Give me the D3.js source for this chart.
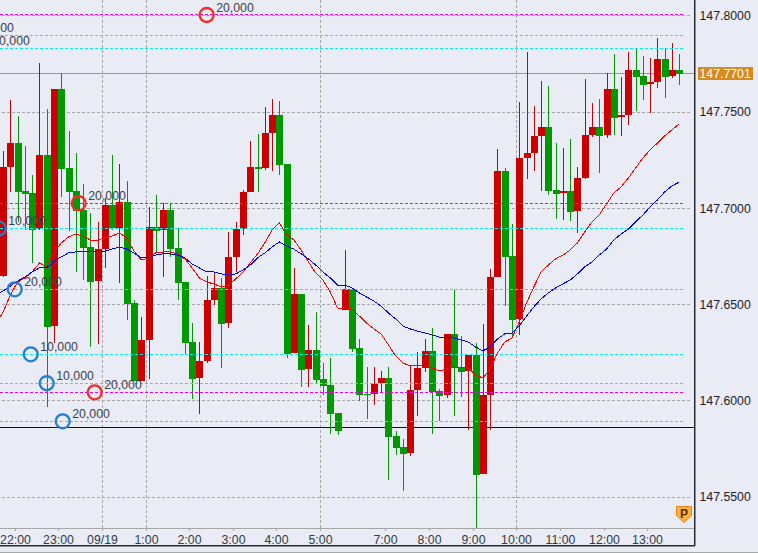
<!DOCTYPE html>
<html>
<head>
<meta charset="utf-8">
<script src="https://cdn.jsdelivr.net/npm/d3@7"></script>
<style>
html,body{margin:0;padding:0;background:#e9ecf5;overflow:hidden}
svg{display:block}
text{font-family:"Liberation Sans",Arial,sans-serif;font-size:12.3px}
</style>
</head>
<body>
<div id="chart"></div>
<script>
const opens=[147.6648,147.7215,147.7339,147.7090,147.7079,147.6892,147.7277,147.6388,147.7620,147.7209,
147.7090,147.6991,147.6799,147.6622,147.6788,147.7017,147.6898,147.7033,147.6508,147.6103,
147.6316,147.6903,147.6887,147.6991,147.6794,147.6617,147.6305,147.6118,147.6207,147.6524,
147.6586,147.6404,147.6747,147.6892,147.7085,147.7215,147.7209,147.7391,147.7485,147.7230,
147.6248,147.6555,147.6165,147.6264,147.6113,147.6082,147.5937,147.6472,147.6581,147.6274,
147.6035,147.6035,147.6092,147.6118,147.5817,147.5760,147.5729,147.6056,147.6170,147.6259,
147.6051,147.6030,147.6347,147.6175,147.6155,147.6238,147.5620,147.6030,147.6643,147.7194,
147.6752,147.6425,147.7261,147.7287,147.7376,147.7422,147.7095,147.7079,147.7090,147.6986,
147.7157,147.7381,147.7422,147.7381,147.7620,147.7474,147.7485,147.7718,147.7687,147.7646,
147.7656,147.7775,147.7687,147.7718];
const closes=[147.7215,147.7339,147.7085,147.7074,147.6887,147.7277,147.6383,147.7620,147.7204,147.7085,
147.6986,147.6794,147.6617,147.6788,147.7017,147.6898,147.7033,147.6503,147.6103,147.6316,
147.6903,147.6882,147.6991,147.6788,147.6612,147.6300,147.6113,147.6207,147.6524,147.6586,
147.6399,147.6747,147.6892,147.7085,147.7215,147.7204,147.7391,147.7485,147.7225,147.6243,
147.6555,147.6160,147.6264,147.6108,147.6077,147.5931,147.5843,147.6581,147.6269,147.6030,
147.6030,147.6087,147.6118,147.5812,147.5755,147.5724,147.6056,147.6170,147.6259,147.6046,
147.6025,147.6347,147.6170,147.6149,147.6238,147.5614,147.6030,147.6643,147.7194,147.6747,
147.6420,147.7261,147.7287,147.7376,147.7422,147.7090,147.7074,147.7090,147.6981,147.7157,
147.7381,147.7422,147.7376,147.7620,147.7469,147.7485,147.7718,147.7682,147.7640,147.7656,
147.7775,147.7682,147.7718,147.7698];
const highs=[147.7298,147.7563,147.7479,147.7324,147.7173,147.7755,147.7516,147.7620,147.7703,147.7402,
147.7287,147.7126,147.6975,147.6929,147.7053,147.7277,147.7230,147.7142,147.6524,147.6435,
147.7007,147.7069,147.7027,147.7022,147.6898,147.6617,147.6404,147.6305,147.6648,147.6664,
147.6638,147.6877,147.6929,147.7095,147.7350,147.7386,147.7526,147.7568,147.7557,147.7230,
147.6690,147.6555,147.6394,147.6461,147.6196,147.6222,147.5937,147.6783,147.6581,147.6321,
147.6175,147.6175,147.6155,147.6175,147.5843,147.5801,147.6181,147.6253,147.6321,147.6378,
147.6061,147.6347,147.6575,147.6336,147.6238,147.6300,147.6399,147.6685,147.7308,147.7209,
147.6918,147.7552,147.7812,147.7531,147.7661,147.7635,147.7339,147.7313,147.7360,147.7215,
147.7672,147.7547,147.7568,147.7703,147.7801,147.7682,147.7812,147.7827,147.7791,147.7781,
147.7885,147.7827,147.7859,147.7801];
const lows=[147.6643,147.7085,147.6929,147.6887,147.6716,147.6887,147.5968,147.6300,147.7059,147.6882,
147.6669,147.6627,147.6279,147.6295,147.6690,147.6887,147.6612,147.6420,147.6103,147.6103,
147.6113,147.6773,147.6643,147.6747,147.6524,147.6243,147.6009,147.5931,147.6196,147.6498,
147.6170,147.6378,147.6669,147.6861,147.7085,147.7085,147.7199,147.7194,147.7173,147.6222,
147.6248,147.6072,147.6072,147.6087,147.6030,147.5827,147.5822,147.6472,147.6253,147.5999,
147.5905,147.5978,147.6046,147.5588,147.5718,147.5531,147.5713,147.5921,147.6149,147.5827,
147.5895,147.6015,147.5921,147.6020,147.5848,147.5339,147.5620,147.5848,147.6643,147.6492,
147.6326,147.6342,147.7152,147.7194,147.7090,147.7069,147.6944,147.6939,147.6934,147.6872,
147.7152,147.7370,147.7183,147.7365,147.7381,147.7376,147.7433,147.7505,147.7563,147.7495,
147.7625,147.7573,147.7677,147.7640];
// moving averages start one bar before the first visible candle
const maFast=[147.6399,147.6461,147.6550,147.6617,147.6638,147.6669,147.6716,147.6695,147.6773,147.6820,147.6851,
147.6866,147.6856,147.6835,147.6835,147.6846,147.6856,147.6872,147.6846,147.6778,147.6731,
147.6742,147.6768,147.6773,147.6773,147.6763,147.6737,147.6690,147.6638,147.6617,147.6607,
147.6591,147.6601,147.6633,147.6669,147.6716,147.6763,147.6820,147.6887,147.6924,147.6861,
147.6835,147.6783,147.6721,147.6664,147.6627,147.6565,147.6482,147.6477,147.6477,147.6440,
147.6404,147.6373,147.6347,147.6290,147.6233,147.6196,147.6181,147.6181,147.6181,147.6170,
147.6155,147.6165,147.6175,147.6175,147.6170,147.6134,147.6118,147.6165,147.6248,147.6305,
147.6326,147.6409,147.6508,147.6591,147.6669,147.6705,147.6737,147.6757,147.6783,147.6820,
147.6877,147.6929,147.6965,147.7022,147.7079,147.7111,147.7157,147.7209,147.7261,147.7303,
147.7339,147.7376,147.7407,147.7438];
const maSlow=[147.6549,147.6570,147.6596,147.6622,147.6643,147.6669,147.6690,147.6690,147.6726,147.6747,147.6768,
147.6773,147.6773,147.6773,147.6773,147.6778,147.6788,147.6799,147.6788,147.6768,147.6742,
147.6742,147.6757,147.6763,147.6763,147.6757,147.6742,147.6711,147.6690,147.6669,147.6669,
147.6659,147.6653,147.6659,147.6679,147.6705,147.6742,147.6768,147.6799,147.6825,147.6804,
147.6788,147.6763,147.6737,147.6705,147.6669,147.6638,147.6601,147.6601,147.6586,147.6560,
147.6539,147.6518,147.6492,147.6456,147.6425,147.6388,147.6373,147.6362,147.6352,147.6342,
147.6331,147.6326,147.6326,147.6316,147.6305,147.6279,147.6259,147.6279,147.6321,147.6347,
147.6352,147.6388,147.6440,147.6487,147.6529,147.6560,147.6586,147.6607,147.6627,147.6659,
147.6695,147.6721,147.6757,147.6788,147.6835,147.6866,147.6892,147.6929,147.6965,147.7007,
147.7043,147.7085,147.7116,147.7136];

const priceTicks=[147.80,147.75,147.70,147.65,147.60,147.55];
const timeLabels=["22:00","23:00","09/19","1:00","2:00","3:00","4:00","5:00","7:00","8:00","9:00","10:00","11:00","12:00","13:00"];
const timeIndex=[2,8,14,20,26,32,38,44,53,59,65,71,77,83,89];
const gridTimes=["09/19","1:00","5:00","10:00"];

const cyanLevels=[147.7898,147.7831,147.6895,147.6579,147.6241,147.6091,147.5893];
const magentaLevels=[147.8004,147.7026,147.6044];
const lastPrice=147.7701;
const blackLevel=147.5862;

const orderIndex=[-5,-2.8,-0.6,1.6,3.8,6.0,8.2,10.4,12.6,28];
const orderPrice=[147.7898,147.7831,147.6895,147.6579,147.6241,147.6091,147.5893,147.7026,147.6044,147.8004];
const orderSide=["buy","buy","buy","buy","buy","buy","buy","sell","sell","sell"];
const orderLabel=["20,000","10,000","10,000","20,000","10,000","10,000","20,000","20,000","20,000","20,000"];

const W=758,H=553,plotRight=694,axisY=528,frameY=545;
const RED="#cc0000",GREEN="#009900";

const x=d3.scaleLinear().domain([0,93]).range([3.1,679.21]);
const y=d3.scaleLinear().domain([147.55,147.80]).range([497,15.75]);
const col=i=>Math.round(x(i));
const row=v=>Math.floor(y(v));
const tickPx=timeIndex.map(i=>Math.round(x(i)-3));
const xAxisScale=d3.scaleOrdinal(timeLabels,tickPx);

const svg=d3.select("#chart").append("svg").attr("width",W).attr("height",H);
const dash="3,2";

// grid
svg.append("g").selectAll("line").data(priceTicks).join("line")
  .attr("x1",0).attr("x2",692)
  .attr("y1",d=>row(d)+.5).attr("y2",d=>row(d)+.5)
  .attr("stroke","#a6a6a6").attr("stroke-dasharray",dash).attr("stroke-dashoffset",3);
svg.append("g").selectAll("line").data(gridTimes).join("line")
  .attr("x1",d=>xAxisScale(d)+.5).attr("x2",d=>xAxisScale(d)+.5)
  .attr("y1",0).attr("y2",axisY)
  .attr("stroke","#a6a6a6").attr("stroke-dasharray",dash);

// solid levels below the candles
svg.append("line").attr("x1",0).attr("x2",plotRight)
  .attr("y1",row(lastPrice)+.5).attr("y2",row(lastPrice)+.5).attr("stroke","#c88d4e");
svg.append("line").attr("x1",0).attr("x2",plotRight)
  .attr("y1",row(blackLevel)+.5).attr("y2",row(blackLevel)+.5).attr("stroke","#111");

// candles
const idx=d3.range(opens.length);
const isUp=i=>closes[i]>=opens[i];
const gC=svg.append("g").attr("shape-rendering","crispEdges");
gC.selectAll("rect.wick").data(idx).join("rect").attr("class","wick")
  .attr("x",i=>col(i)).attr("width",1)
  .attr("y",i=>Math.round(y(highs[i])))
  .attr("height",i=>Math.max(1,Math.round(y(lows[i]))-Math.round(y(highs[i]))))
  .attr("fill",i=>isUp(i)?RED:GREEN);
gC.selectAll("rect.body").data(idx).join("rect").attr("class","body")
  .attr("x",i=>col(i)-3).attr("width",7)
  .attr("y",i=>Math.round(y(Math.max(opens[i],closes[i]))))
  .attr("height",i=>Math.max(1,Math.round(y(Math.min(opens[i],closes[i])))-Math.round(y(Math.max(opens[i],closes[i])))))
  .attr("fill",i=>isUp(i)?RED:GREEN);

// dashed order levels
svg.append("g").selectAll("line").data(cyanLevels).join("line")
  .attr("x1",0).attr("x2",684)
  .attr("y1",d=>row(d)+.5).attr("y2",d=>row(d)+.5)
  .attr("stroke","#00f0f0").attr("stroke-dasharray",dash);
svg.append("g").selectAll("line").data(magentaLevels).join("line")
  .attr("x1",0).attr("x2",684)
  .attr("y1",d=>row(d)+.5).attr("y2",d=>row(d)+.5)
  .attr("stroke","#f000f0").attr("stroke-dasharray",dash);

// moving averages
const line=d3.line().x((d,i)=>x(i-1)).y(d=>y(d));
svg.append("path").datum(maFast).attr("d",line).attr("fill","none").attr("stroke","#ff0000").attr("stroke-width",1).attr("shape-rendering","crispEdges");
svg.append("path").datum(maSlow).attr("d",line).attr("fill","none").attr("stroke","#0000ff").attr("stroke-width",1).attr("shape-rendering","crispEdges");

// order markers
const gO=svg.append("g");
gO.selectAll("circle").data(orderIndex).join("circle")
  .attr("cx",(d,i)=>x(d)).attr("cy",(d,i)=>y(orderPrice[i])).attr("r",7)
  .attr("fill","none").attr("stroke-width",2.3)
  .attr("stroke",(d,i)=>orderSide[i]==="buy"?"#1f7fd6":"#f52a2a");
gO.selectAll("text").data(orderIndex).join("text")
  .attr("x",(d,i)=>x(d)+9.5).attr("y",(d,i)=>y(orderPrice[i])-3)
  .attr("fill","#3c404c")
  .text((d,i)=>orderLabel[i]);

// frame
svg.append("rect").attr("x",0).attr("y",axisY).attr("width",plotRight).attr("height",1).attr("fill","#a6a6a6");
svg.append("rect").attr("x",plotRight).attr("y",0).attr("width",1.5).attr("height",frameY+1).attr("fill","#2a2d33");
svg.append("rect").attr("x",0).attr("y",frameY).attr("width",plotRight+1).attr("height",1.5).attr("fill","#2a2d33");
svg.append("rect").attr("x",0).attr("y",552).attr("width",W).attr("height",1).attr("fill","#a8a8a8");

// price axis
const gY=svg.append("g").attr("transform",`translate(${plotRight},0)`)
  .call(d3.axisRight(y).tickValues(priceTicks).tickFormat(d3.format(".4f")).tickSize(0).tickPadding(5.5));
gY.select(".domain").remove();
gY.selectAll("text").attr("fill","#1c2028").style("font-size","12.3px").style("font-family",'"Liberation Sans",Arial,sans-serif');

// time axis
const gX=svg.append("g").attr("transform",`translate(0,${axisY})`)
  .call(d3.axisBottom(xAxisScale).tickSize(3).tickPadding(2));
gX.select(".domain").remove();
gX.selectAll("line").attr("stroke","#a6a6a6");
gX.selectAll("text").attr("fill","#343945").attr("y",16).attr("dy",0).style("font-size","12.3px").style("font-family",'"Liberation Sans",Arial,sans-serif');

// current price tag
svg.append("rect").attr("x",698).attr("y",row(lastPrice)-6).attr("width",55).attr("height",13).attr("fill","#d98a1f");
svg.append("text").attr("x",699.5).attr("y",row(lastPrice)+5).attr("fill","#fff").text(d3.format(".4f")(lastPrice));

// P marker
const gP=svg.append("g").attr("transform","translate(684,514)");
gP.append("path").attr("d","M-7.5,-7.5 L7.5,-7.5 L7.5,1.5 L0,8.5 L-7.5,1.5 Z")
  .attr("fill","#ffb23e").attr("stroke","#f07f22").attr("stroke-width",1);
gP.append("text").attr("x",0).attr("y",4).attr("text-anchor","middle")
  .attr("fill","#5a2c00").style("font-weight","bold").style("font-size","12px").text("P");
</script>
</body>
</html>
